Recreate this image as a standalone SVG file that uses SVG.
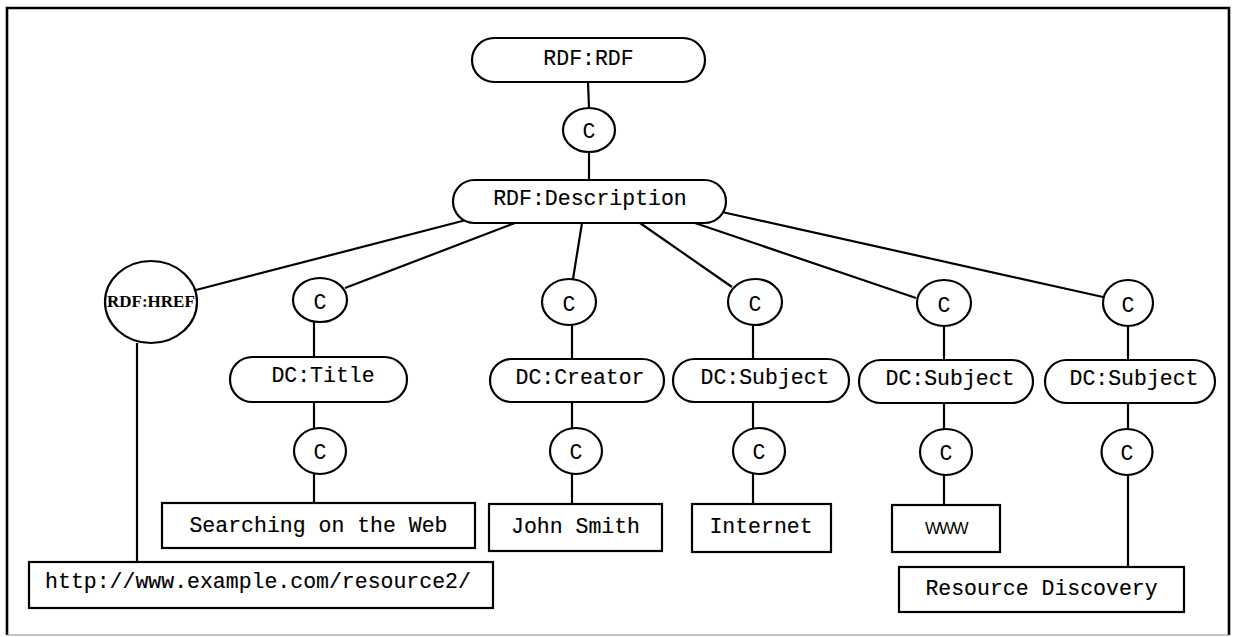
<svg xmlns="http://www.w3.org/2000/svg" width="1233" height="637" viewBox="0 0 1233 637">
  <style>
    .shape { fill: #fff; stroke: #000; stroke-width: 2.2; }
    .edge { stroke: #000; stroke-width: 2.2; fill: none; }
    .lbl { font-family: "Liberation Mono", "Courier New", monospace; font-size: 21.5px; fill: #000; stroke: #000; stroke-width: 0.15; text-anchor: middle; }
    .c { font-family: "Liberation Mono", "Courier New", monospace; font-size: 21.5px; fill: #000; text-anchor: middle; }
  </style>
  <rect width="1233" height="637" fill="#fff"/>

  <!-- outer frame -->
  <g id="frame">
    <path d="M7,635 V8 H1229 V635" fill="none" stroke="#000" stroke-width="2.6"/>
    <line x1="7" y1="635" x2="1229" y2="635" stroke="#888" stroke-width="1"/>
  </g>

  <!-- connectors -->
  <g id="connectors" class="edge">
    <line x1="588" y1="82" x2="589" y2="108"/>
    <line x1="589" y1="152" x2="589" y2="180"/>
    <line x1="470" y1="219" x2="196" y2="290"/>
    <line x1="515" y1="223" x2="345" y2="288"/>
    <line x1="582" y1="223" x2="573" y2="279"/>
    <line x1="640" y1="223" x2="732" y2="287"/>
    <line x1="692" y1="222" x2="916" y2="298"/>
    <line x1="722" y1="212" x2="1103" y2="297"/>
    <line x1="137" y1="343" x2="137" y2="562"/>
    <line x1="314" y1="322" x2="314" y2="357"/>
    <line x1="314" y1="402" x2="314" y2="428"/>
    <line x1="314" y1="474" x2="314" y2="503"/>
    <line x1="572" y1="325" x2="572" y2="359"/>
    <line x1="572" y1="402" x2="572" y2="428"/>
    <line x1="572" y1="474" x2="572" y2="504"/>
    <line x1="753" y1="325" x2="753" y2="359"/>
    <line x1="753" y1="402" x2="753" y2="429"/>
    <line x1="753" y1="474" x2="753" y2="504"/>
    <line x1="944" y1="326" x2="944" y2="360"/>
    <line x1="944" y1="403" x2="944" y2="429"/>
    <line x1="944" y1="475" x2="944" y2="505"/>
    <line x1="1128" y1="326" x2="1128" y2="360"/>
    <line x1="1128" y1="403" x2="1128" y2="429"/>
    <line x1="1128" y1="475" x2="1128" y2="567"/>
  </g>

  <!-- root -->
  <g id="rdf-rdf">
    <rect class="shape" x="472" y="38" width="233" height="44" rx="22"/>
    <text class="lbl" x="588.5" y="65">RDF:RDF</text>
  </g>
  <g id="c-root">
    <ellipse class="shape" cx="589" cy="130" rx="26" ry="22"/>
    <text class="c" x="589" y="138">C</text>
  </g>
  <g id="rdf-description">
    <rect class="shape" x="453" y="180" width="273" height="43" rx="21.5"/>
    <text class="lbl" x="590" y="205">RDF:Description</text>
  </g>

  <!-- href branch -->
  <g id="rdf-href">
    <ellipse class="shape" cx="151" cy="302" rx="46" ry="41"/>
    <text x="107" y="307" font-family="Liberation Serif, 'Times New Roman', serif" font-size="17" font-weight="bold" fill="#000">RDF:HREF</text>
  </g>
  <g id="url">
    <rect class="shape" x="29" y="562" width="464" height="46"/>
    <text class="lbl" x="258" y="588">http://www.example.com/resource2/</text>
  </g>

  <!-- title branch -->
  <g id="c-title-1">
    <ellipse class="shape" cx="320" cy="300" rx="27" ry="22"/>
    <text class="c" x="320" y="309">C</text>
  </g>
  <g id="dc-title">
    <rect class="shape" x="230" y="357" width="177" height="45" rx="22.5"/>
    <text class="lbl" x="323" y="382">DC:Title</text>
  </g>
  <g id="c-title-2">
    <ellipse class="shape" cx="320" cy="451" rx="26" ry="23"/>
    <text class="c" x="320" y="459">C</text>
  </g>
  <g id="title-value">
    <rect class="shape" x="162" y="503" width="313" height="45"/>
    <text class="lbl" x="318.5" y="532">Searching on the Web</text>
  </g>

  <!-- creator branch -->
  <g id="c-creator-1">
    <ellipse class="shape" cx="569" cy="302" rx="27" ry="23"/>
    <text class="c" x="569" y="311">C</text>
  </g>
  <g id="dc-creator">
    <rect class="shape" x="490" y="359" width="174" height="43" rx="21.5"/>
    <text class="lbl" x="580" y="384">DC:Creator</text>
  </g>
  <g id="c-creator-2">
    <ellipse class="shape" cx="576" cy="451" rx="26" ry="23"/>
    <text class="c" x="576" y="459">C</text>
  </g>
  <g id="creator-value">
    <rect class="shape" x="489" y="504" width="173" height="47"/>
    <text class="lbl" x="575.5" y="533">John Smith</text>
  </g>

  <!-- subject 1 -->
  <g id="c-subject1-1">
    <ellipse class="shape" cx="755" cy="302" rx="27" ry="23"/>
    <text class="c" x="755" y="311">C</text>
  </g>
  <g id="dc-subject1">
    <rect class="shape" x="673" y="359" width="176" height="43" rx="21.5"/>
    <text class="lbl" x="765" y="384">DC:Subject</text>
  </g>
  <g id="c-subject1-2">
    <ellipse class="shape" cx="759" cy="451" rx="26" ry="23"/>
    <text class="c" x="759" y="459">C</text>
  </g>
  <g id="subject1-value">
    <rect class="shape" x="692" y="504" width="139" height="48"/>
    <text class="lbl" x="761" y="533">Internet</text>
  </g>

  <!-- subject 2 -->
  <g id="c-subject2-1">
    <ellipse class="shape" cx="944" cy="303" rx="27" ry="23"/>
    <text class="c" x="944" y="312">C</text>
  </g>
  <g id="dc-subject2">
    <rect class="shape" x="859" y="360" width="174" height="43" rx="21.5"/>
    <text class="lbl" x="950" y="385">DC:Subject</text>
  </g>
  <g id="c-subject2-2">
    <ellipse class="shape" cx="946" cy="452" rx="26" ry="23"/>
    <text class="c" x="946" y="460">C</text>
  </g>
  <g id="subject2-value">
    <rect class="shape" x="892" y="505" width="108" height="47"/>
    <text x="946" y="534" font-family="Liberation Sans, Arial, sans-serif" font-size="16.5" letter-spacing="-1.5" text-anchor="middle" fill="#000">WWW</text>
  </g>

  <!-- subject 3 -->
  <g id="c-subject3-1">
    <ellipse class="shape" cx="1128" cy="303" rx="25" ry="23"/>
    <text class="c" x="1128" y="312">C</text>
  </g>
  <g id="dc-subject3">
    <rect class="shape" x="1045" y="360" width="170" height="43" rx="21.5"/>
    <text class="lbl" x="1134" y="385">DC:Subject</text>
  </g>
  <g id="c-subject3-2">
    <ellipse class="shape" cx="1127" cy="452" rx="25.5" ry="23"/>
    <text class="c" x="1127" y="460">C</text>
  </g>
  <g id="subject3-value">
    <rect class="shape" x="899" y="567" width="285" height="45"/>
    <text class="lbl" x="1041.5" y="595">Resource Discovery</text>
  </g>
</svg>
